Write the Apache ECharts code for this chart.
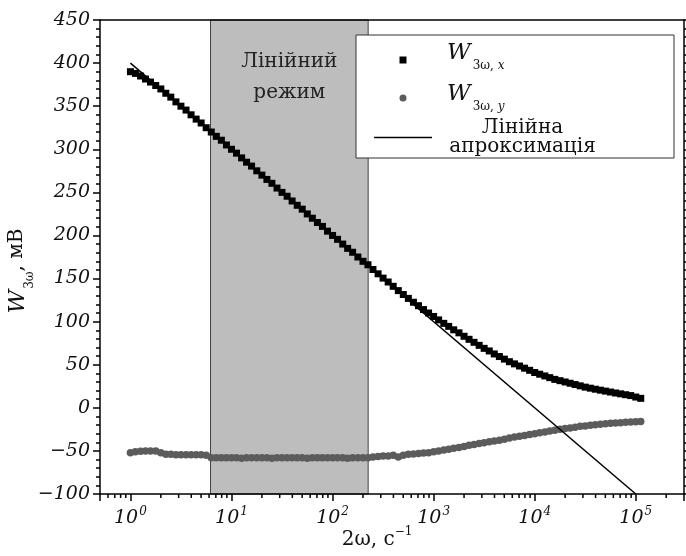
<!DOCTYPE html>
<html>
<head>
<meta charset="utf-8">
<script src="https://cdn.jsdelivr.net/npm/echarts@6/dist/echarts.min.js"></script>
<style>
html, body { margin: 0; padding: 0; background: #fff; }
#chart { width: 686px; height: 556px; }
</style>
</head>
<body>
<div id="chart"></div>
<script>
// 2ω, c^-1
var freq = [
    1, 1.12, 1.26, 1.41, 1.58, 1.78, 2.00, 2.24, 2.51, 2.82, 3.16, 3.55, 3.98, 4.47, 5.01, 5.62, 6.31, 7.08, 7.94, 8.91,
    10, 11.2, 12.6, 14.1, 15.8, 17.8, 20.0, 22.4, 25.1, 28.2, 31.6, 35.5, 39.8, 44.7, 50.1, 56.2, 63.1, 70.8, 79.4, 89.1,
    100, 112, 126, 141, 158, 178, 200, 224, 251, 282, 316, 355, 398, 447, 501, 562, 631, 708, 794, 891,
    1000, 1120, 1260, 1410, 1580, 1780, 2000, 2240, 2510, 2820, 3160, 3550, 3980, 4470, 5010, 5620, 6310, 7080, 7940, 8910,
    10000, 11200, 12600, 14100, 15800, 17800, 20000, 22400, 25100, 28200, 31600, 35500, 39800, 44700, 50100, 56200, 63100, 70800, 79400, 89100,
    100000, 112000
];
// W3ω,x, mV
var wx = [
    390, 388, 385, 381.5, 378, 374, 370, 365, 360.5, 355, 350, 345.5, 340, 335, 330.5, 325, 320, 315, 310.5, 305,
    300, 295.5, 290, 285, 280.5, 275, 270, 265, 260.5, 255, 250, 245.5, 240, 235, 230.5, 225, 220, 215, 210.5, 205,
    200, 195.5, 190, 185, 180.5, 175, 170, 166, 160.5, 155.5, 150.5, 146, 141, 136, 131.5, 127, 122.5, 118.5, 114, 110,
    106, 102, 98, 94.5, 90.5, 87, 83, 79.5, 76, 72.5, 69, 66, 62.5, 59.5, 56.5, 53.5, 51, 48.5, 46, 43.5,
    41, 39, 37, 35, 33, 31.5, 30, 28.5, 27, 25.5, 24, 22.8, 21.6, 20.5, 19.4, 18.3, 17.2, 16.2, 15.2, 14.2,
    12.5, 11
];
// W3ω,y, mV
var wy = [
    -52, -51, -50.5, -50, -50, -50, -52, -54, -54, -54.5, -54.5, -54.5, -54.5, -54.5, -54.5, -55, -58, -58, -58, -58,
    -58, -58, -58.5, -58, -58, -58, -58, -58, -58.5, -58, -58, -58, -58, -58, -58, -58.5, -58, -58, -58, -58,
    -58, -58, -58, -58.5, -58, -58, -58, -58, -57, -56.5, -56, -56, -55, -57, -55, -54, -53.5, -53, -52.5, -52,
    -51, -50, -49, -48, -47, -46, -45, -43.5, -42.5, -41.5, -40.5, -39.5, -38.5, -37.5, -36.5, -35, -34, -33, -32, -31,
    -30, -29, -28, -27, -26, -25, -24, -23.5, -22.5, -21.5, -21, -20.3, -19.7, -19, -18.5, -18, -17.6, -17.2, -16.8, -16.5,
    -16.2, -15.8
];
// linear fit
var fitFreq = [1, 100000];
var fitW = [400, -100];
// linear regime band
var bandFreq = [6.2, 225];
var xTickExp = [0, 1, 2, 3, 4, 5];
var xMinorTicks = [
    0.6, 0.7, 0.8, 0.9,
    2, 3, 4, 5, 6, 7, 8, 9,
    20, 30, 40, 50, 60, 70, 80, 90,
    200, 300, 400, 500, 600, 700, 800, 900,
    2000, 3000, 4000, 5000, 6000, 7000, 8000, 9000,
    20000, 30000, 40000, 50000, 60000, 70000, 80000, 90000,
    200000
];

var serif = '"DejaVu Serif", serif';
var legendText = {
    wx: '{w|W}{s1|3ω, }{si1|x}',
    wy: '{w|W}{s2|3ω, }{si2|y}',
    fit: '{a|Лінійна}\n{b|апроксимація}'
};

function pairs(xs, ys) {
    var out = [];
    for (var i = 0; i < xs.length; i++) {
        out.push([xs[i], ys[i]]);
    }
    return out;
}

var chart = echarts.init(document.getElementById('chart'));
chart.setOption({
    animation: false,
    backgroundColor: '#fff',
    grid: { left: 100, top: 20, right: 2, bottom: 62, outerBoundsMode: 'none' },
    legend: {
        data: [
            { name: 'wx', icon: 'path://M0,0h10v10h-10z' },
            { name: 'wy', icon: 'circle' },
            { name: 'fit', icon: 'path://M0,0h58v1.5h-58z' }
        ],
        orient: 'vertical',
        left: 356,
        top: 35,
        selectedMode: false,
        symbolKeepAspect: true,
        itemWidth: 58,
        itemHeight: 7,
        itemGap: 5,
        padding: [7, 69, 1, 18],
        backgroundColor: '#fff',
        borderColor: '#333',
        borderWidth: 1,
        formatter: function (name) { return legendText[name]; },
        textStyle: {
            color: '#111',
            fontFamily: serif,
            rich: {
                w: { fontFamily: serif, fontStyle: 'italic', fontSize: 23, lineHeight: 22, verticalAlign: 'top', padding: [0, 0, 0, 10] },
                s1: { fontFamily: serif, fontSize: 12, lineHeight: 36, verticalAlign: 'bottom', padding: [0, 0, 6, 2] },
                si1: { fontFamily: serif, fontStyle: 'italic', fontSize: 12, lineHeight: 36, verticalAlign: 'bottom', padding: [0, 0, 6, 0] },
                s2: { fontFamily: serif, fontSize: 12, lineHeight: 30, verticalAlign: 'bottom', padding: [0, 0, 0, 2] },
                si2: { fontFamily: serif, fontStyle: 'italic', fontSize: 12, lineHeight: 30, verticalAlign: 'bottom' },
                a: { fontFamily: serif, fontSize: 20, lineHeight: 19, width: 165, align: 'center', padding: [0, 0, 0, 3] },
                b: { fontFamily: serif, fontSize: 20, lineHeight: 19, width: 165, align: 'center', padding: [0, 0, 0, 3] }
            }
        }
    },
    xAxis: [{
        type: 'log',
        min: 0.5,
        max: 300000,
        z: 10,
        name: '{t|2ω, с}{p|−1}',
        nameLocation: 'middle',
        nameGap: 32,
        nameMoveOverlap: false,
        nameTextStyle: {
            padding: [0, 30, 0, 0],
            rich: {
                t: { fontFamily: serif, fontSize: 20, color: '#111', lineHeight: 24, verticalAlign: 'bottom' },
                p: { fontFamily: serif, fontSize: 12, color: '#111', lineHeight: 12, verticalAlign: 'top' }
            }
        },
        axisLine: { onZero: false, lineStyle: { color: '#000', width: 1.5 } },
        axisTick: { length: 7, lineStyle: { color: '#000', width: 1.5 } },
        splitLine: { show: false },
        axisLabel: {
            margin: 12,
            formatter: function (v) {
                var e = Math.round(Math.log10(v));
                if (Math.abs(Math.log10(v) - e) > 1e-6 || xTickExp.indexOf(e) < 0) return '';
                return '{b|10}{s|' + e + '}';
            },
            rich: {
                b: { fontFamily: serif, fontStyle: 'italic', fontSize: 19, color: '#111', lineHeight: 22, verticalAlign: 'bottom' },
                s: { fontFamily: serif, fontStyle: 'italic', fontSize: 12, color: '#111', lineHeight: 12, verticalAlign: 'top', padding: [0, 0, 0, 1] }
            }
        }
    }, {
        type: 'log',
        min: 0.5,
        max: 300000,
        position: 'top',
        z: 10,
        axisLine: { onZero: false, lineStyle: { color: '#000', width: 1.5 } },
        axisTick: { show: false },
        axisLabel: { show: false },
        splitLine: { show: false }
    }],
    yAxis: [{
        type: 'value',
        min: -100,
        max: 450,
        interval: 50,
        z: 10,
        name: '{w|W}{s|3ω}{n|, мВ}',
        nameLocation: 'middle',
        nameRotate: 90,
        nameGap: 64,
        nameMoveOverlap: false,
        nameTextStyle: {
            padding: [0, 28, 0, 0],
            rich: {
                w: { fontFamily: serif, fontStyle: 'italic', fontSize: 23, color: '#111', lineHeight: 23, verticalAlign: 'top' },
                s: { fontFamily: serif, fontSize: 12, color: '#111', lineHeight: 29, verticalAlign: 'bottom', padding: [0, 0, 0, 1] },
                n: { fontFamily: serif, fontSize: 20, color: '#111', lineHeight: 23, verticalAlign: 'top' }
            }
        },
        axisLine: { show: true, onZero: false, lineStyle: { color: '#000', width: 1.5 } },
        axisTick: { show: true, length: 7, lineStyle: { color: '#000', width: 1.5 } },
        minorTick: { show: true, splitNumber: 5, length: 4, lineStyle: { color: '#000', width: 1.5 } },
        splitLine: { show: false },
        axisLabel: {
            margin: 10,
            fontFamily: serif,
            fontStyle: 'italic',
            fontSize: 19,
            color: '#111',
            formatter: function (v) { return v < 0 ? '−' + Math.abs(v) : String(v); }
        }
    }, {
        type: 'value',
        min: -100,
        max: 450,
        interval: 50,
        position: 'right',
        z: 10,
        axisLine: { show: true, onZero: false, lineStyle: { color: '#000', width: 1.5 } },
        axisTick: { show: true, length: 7, lineStyle: { color: '#000', width: 1.5 } },
        minorTick: { show: true, splitNumber: 5, length: 4, lineStyle: { color: '#000', width: 1.5 } },
        splitLine: { show: false },
        axisLabel: { show: false }
    }],
    series: [{
        name: 'wx',
        type: 'scatter',
        symbol: 'rect',
        symbolSize: 7,
        itemStyle: { color: '#000', opacity: 1 },
        data: pairs(freq, wx),
        markArea: {
            silent: true,
            itemStyle: { color: '#bdbdbd', borderColor: '#444', borderWidth: 1 },
            label: {
                show: true,
                position: 'insideTop',
                distance: 27,
                formatter: 'Лінійний\nрежим',
                fontFamily: serif,
                fontSize: 20,
                lineHeight: 31,
                color: '#222'
            },
            data: [[{ xAxis: bandFreq[0] }, { xAxis: bandFreq[1] }]]
        },
        z: 3
    }, {
        name: 'wy',
        type: 'scatter',
        symbol: 'circle',
        symbolSize: 7.5,
        itemStyle: { color: '#5c5c5c', opacity: 1 },
        data: pairs(freq, wy),
        z: 3
    }, {
        name: 'fit',
        type: 'line',
        symbol: 'none',
        lineStyle: { color: '#000', width: 1.5 },
        itemStyle: { color: '#000' },
        data: pairs(fitFreq, fitW),
        z: 4
    }, {
        name: 'minorX',
        type: 'custom',
        silent: true,
        clip: false,
        z: 10,
        renderItem: function (params, api) {
            var p = api.coord([api.value(0), -100]);
            return {
                type: 'line',
                shape: { x1: p[0], y1: p[1], x2: p[0], y2: p[1] + 4 },
                style: { stroke: '#000', lineWidth: 1.5 }
            };
        },
        data: xMinorTicks.map(function (v) { return [v, -100]; })
    }]
});
</script>
</body>
</html>
